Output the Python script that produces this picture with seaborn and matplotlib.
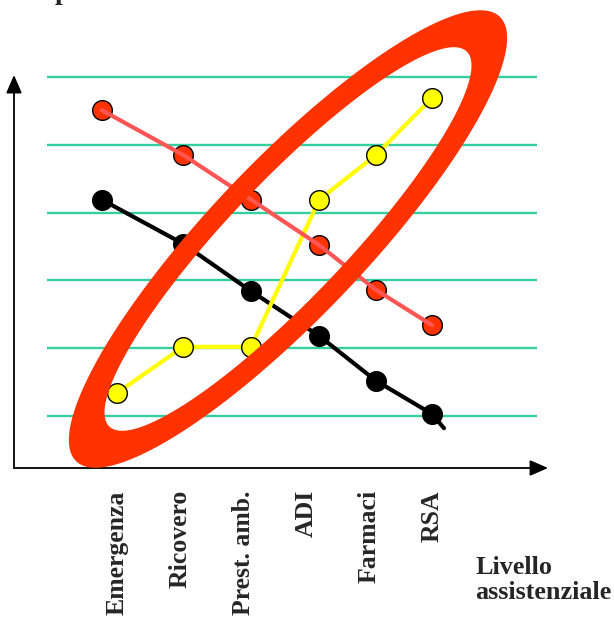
import numpy as np
import pandas as pd
import matplotlib
matplotlib.use("Agg")
import matplotlib.pyplot as plt
from matplotlib.path import Path
from matplotlib.patches import PathPatch
import seaborn as sns

# ---- data ----
categories = ["Emergenza", "Ricovero", "Prest. amb.", "ADI", "Farmaci", "RSA"]
point_x = [-0.24, 1.05, 2.13, 3.21, 4.11, 5.0]          # horizontal position of each point (category units)
yellow_x = [0.0, 1.05, 2.13, 3.21, 4.11, 5.0]
red_vals = [5.51, 4.85, 4.19, 3.52, 2.86, 2.34]
black_vals = [4.19, 3.54, 2.84, 2.18, 1.52, 1.03]
yellow_vals = [1.34, 2.02, 2.02, 4.19, 4.85, 5.69]
black_tail_x = [5.19]
black_tail_y = [0.82]
grid_levels = [1, 2, 3, 4, 5, 6]
axis_label = "Livello\nassistenziale"

sns.set_theme(style="white")
plt.rcParams["font.family"] = ["Liberation Serif", "DejaVu Serif"]

W, H = 614, 619
fig = plt.figure(figsize=(W / 100, H / 100), dpi=100)
fig.patch.set_facecolor("white")

ax = fig.add_axes([14 / W, (H - 468) / H, (548 - 14) / W, (468 - 77) / H])
ax.set_facecolor("none")
ax.set_xlim(-1.635, 6.841)
ax.set_ylim(0.233, 6.0)

# gridlines
ax.hlines(grid_levels, -1.111, 6.667, color="#33CFA0", lw=1.7, zorder=1, clip_on=False)

red_df = pd.DataFrame({"x": point_x, "y": red_vals})
black_df = pd.DataFrame({"x": point_x + black_tail_x, "y": black_vals + black_tail_y})
black_pts = pd.DataFrame({"x": point_x, "y": black_vals})
yellow_df = pd.DataFrame({"x": yellow_x, "y": yellow_vals})

# black series
sns.lineplot(data=black_df, x="x", y="y", color="black", lw=3.0, sort=False,
             ax=ax, zorder=3, legend=False)
sns.scatterplot(data=black_pts, x="x", y="y", color="black", s=200, edgecolor="black",
                linewidth=1.0, ax=ax, zorder=4, legend=False)

# yellow series
sns.lineplot(data=yellow_df, x="x", y="y", color="#FFFF00", lw=3.0, sort=False,
             ax=ax, zorder=3, legend=False)
sns.scatterplot(data=yellow_df, x="x", y="y", color="#FFFF00", s=200, edgecolor="black",
                linewidth=1.0, ax=ax, zorder=4, legend=False)

# red series (line drawn over markers)
sns.scatterplot(data=red_df, x="x", y="y", color="#FF3300", s=200, edgecolor="black",
                linewidth=1.0, ax=ax, zorder=4, legend=False)
sns.lineplot(data=red_df, x="x", y="y", color="#FF5555", lw=3.0, sort=False,
             ax=ax, zorder=5, legend=False)

# axes styling
for s in ax.spines.values():
    s.set_visible(False)
ax.set_xlabel("")
ax.set_ylabel("")
ax.set_yticks([])
ax.set_xticks(range(len(categories)))
ax.set_xticklabels(categories, rotation=90, fontsize=18.5, fontweight="bold",
                   family="Liberation Serif", va="top", ha="center")
ax.tick_params(axis="x", length=0, pad=16)

arrow_style = "-|>,head_length=0.55,head_width=0.24"
ax.annotate("", xy=(0, 1.005), xytext=(0, 0), xycoords="axes fraction",
            arrowprops=dict(arrowstyle=arrow_style, mutation_scale=20, lw=1.3,
                            color="black", shrinkA=0, shrinkB=0), annotation_clip=False)
ax.annotate("", xy=(1, 0), xytext=(0, 0), xycoords="axes fraction",
            arrowprops=dict(arrowstyle=arrow_style, mutation_scale=20, lw=1.3,
                            color="black", shrinkA=0, shrinkB=0), annotation_clip=False)

fig.text(475 / W, 1 - 556 / H, axis_label, ha="left", va="top", fontsize=18.8,
         fontweight="bold", family="Liberation Serif", linespacing=1.12)

# cut-off title remnant at the top
fig.text(62 / W, 1 + 1 / H, "p", ha="center", va="baseline", fontsize=20,
         fontweight="bold", family="Liberation Serif")

# overlay for the red ring (pixel coordinates)
ov = fig.add_axes([0, 0, 1, 1])
ov.set_xlim(0, W)
ov.set_ylim(H, 0)
ov.axis("off")
ov.patch.set_alpha(0)


def ellipse_pts(cx, cy, a, b, theta_deg, n=400):
    t = np.linspace(0, 2 * np.pi, n)
    th = np.deg2rad(theta_deg)
    x = cx + a * np.cos(t) * np.cos(th) - b * np.sin(t) * np.sin(th)
    y = cy + a * np.cos(t) * np.sin(th) + b * np.sin(t) * np.cos(th)
    return np.column_stack([x, y])


outer = ellipse_pts(288, 239, 307, 78, -46.4)
inner = ellipse_pts(288, 239, 259, 58, -46.4)[::-1]
verts = np.vstack([outer, inner])
codes = ([Path.MOVETO] + [Path.LINETO] * (len(outer) - 2) + [Path.CLOSEPOLY]) * 2
ring = PathPatch(Path(verts, codes), facecolor="#FF3300", edgecolor="none", zorder=10)
ov.add_patch(ring)

fig.savefig("out.png", dpi=100)
